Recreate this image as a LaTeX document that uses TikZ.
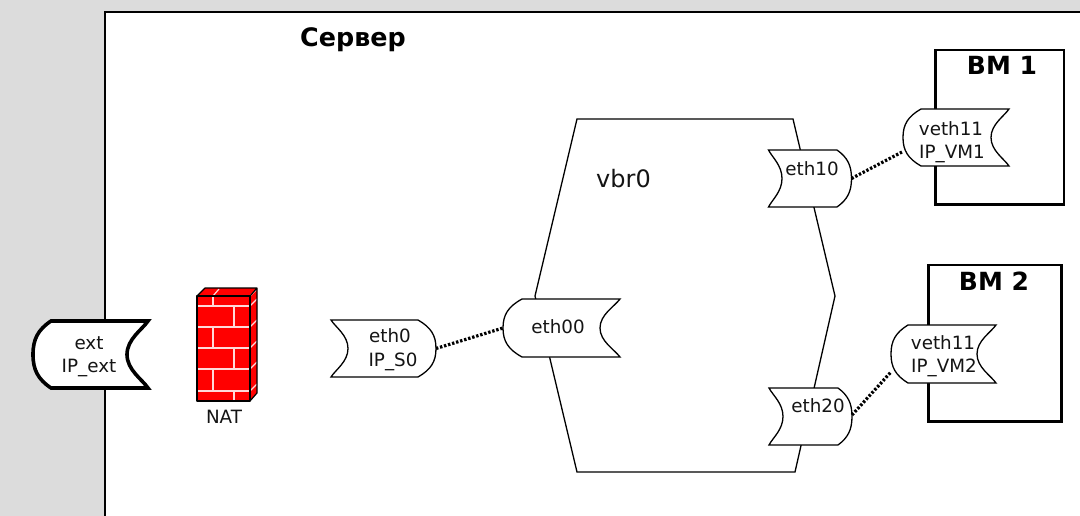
\documentclass[tikz,border=0pt]{standalone}
\usepackage{fontspec}
\setmainfont{DejaVu Sans}
\definecolor{bggray}{HTML}{DCDCDC}
\definecolor{txt}{HTML}{141414}
\newcommand{\fs}[1]{\fontsize{#1}{#1}\selectfont}
% left-bulge port: name, tip, shoulder, notch, corner, top, bottom, line width
\newcommand{\portLeft}[8]{%
  \pgfmathsetmacro{\mym}{(#6+#7)/2}\pgfmathsetmacro{\myh}{#7-#6}%
  \pgfmathsetmacro{\mxm}{(#2+#5)/2}\pgfmathsetmacro{\mw}{#5-#2}%
  \pgfmathsetmacro{\ua}{#6+0.13*\myh}\pgfmathsetmacro{\ub}{#6+0.27*\myh}%
  \pgfmathsetmacro{\la}{#7-0.13*\myh}\pgfmathsetmacro{\lb}{#7-0.27*\myh}%
  \pgfmathsetmacro{\sa}{#3-0.72*(#3-#2)}\pgfmathsetmacro{\na}{#4+0.72*(#5-#4)}%
  \node[portbox,minimum width=\mw pt,minimum height=\myh pt] (#1) at (\mxm,\mym) {};
  \draw[portline,line width=#8] (#3,#6) .. controls (\sa,\ua) and (#2,\ub) .. (#2,\mym)
    .. controls (#2,\lb) and (\sa,\la) .. (#3,#7) -- (#5,#7)
    .. controls (\na,\la) and (#4,\lb) .. (#4,\mym)
    .. controls (#4,\ub) and (\na,\ua) .. (#5,#6) -- cycle;
}
% right-bulge port: name, left corner, notch, shoulder, tip, top, bottom, line width
\newcommand{\portRight}[8]{%
  \pgfmathsetmacro{\mym}{(#6+#7)/2}\pgfmathsetmacro{\myh}{#7-#6}%
  \pgfmathsetmacro{\mxm}{(#2+#5)/2}\pgfmathsetmacro{\mw}{#5-#2}%
  \pgfmathsetmacro{\ua}{#6+0.13*\myh}\pgfmathsetmacro{\ub}{#6+0.27*\myh}%
  \pgfmathsetmacro{\la}{#7-0.13*\myh}\pgfmathsetmacro{\lb}{#7-0.27*\myh}%
  \pgfmathsetmacro{\sa}{#4+0.72*(#5-#4)}\pgfmathsetmacro{\na}{#3-0.72*(#3-#2)}%
  \node[portbox,minimum width=\mw pt,minimum height=\myh pt] (#1) at (\mxm,\mym) {};
  \draw[portline,line width=#8] (#4,#6) .. controls (\sa,\ua) and (#5,\ub) .. (#5,\mym)
    .. controls (#5,\lb) and (\sa,\la) .. (#4,#7) -- (#2,#7)
    .. controls (\na,\la) and (#3,\lb) .. (#3,\mym)
    .. controls (#3,\ub) and (\na,\ua) .. (#2,#6) -- cycle;
}
\tikzset{
  portbox/.style={inner sep=0pt,outer sep=0pt},
  portline/.style={draw=black,fill=white,line join=miter},
  wire/.style={draw=black,line width=1.3pt},
  vmbox/.style={draw=black,line width=2.8pt,fill=white},
  link/.style={draw=black,line width=3.2pt,dash pattern=on 2.4pt off 1.8pt},
  lbl/.style={text=txt,inner sep=0pt,font=\fs{18.3}},
  big/.style={text=black,inner sep=0pt,font=\fs{25}\bfseries},
  brick/.style={draw=white!85!red,line width=1.2pt},
}
\begin{document}
\begin{tikzpicture}[x=1pt,y=-1pt]
\useasboundingbox (0,0) rectangle (1080,516);
\fill[bggray] (0,0) rectangle (1080,516);
\fill[white] (105,12) rectangle (1080,516);
\draw[black,line width=1.5pt] (105,516) -- (105,12) -- (1080,12);
\node[big,font=\fs{25.4}\bfseries,anchor=base west] (server) at (300,47) {Сервер};

% vbr0
\draw[wire] (577,119) -- (793,119) -- (835,296) -- (795,472) -- (577,472) -- (535,296) -- cycle;
\node[text=txt,inner sep=0pt,font=\fs{24},anchor=base west] (vbr) at (596,188) {vbr0};

% VMs
\draw[vmbox] (935.5,50) rectangle (1064,204.5);
\draw[vmbox] (928.5,265) rectangle (1061.5,421.5);
\node[big,anchor=base] (vmA) at (1002,75) {ВМ 1};
\node[big,anchor=base] (vmB) at (994,290) {ВМ 2};

% firewall
\fill[red] (197,296) -- (205,288) -- (257,288) -- (257,393) -- (250,401) -- (197,401) -- cycle;
\foreach \yy in {306,327,348,369,391} \draw[brick] (197,\yy) -- (250,\yy);
\foreach \yy in {306,327,348,369,391} \draw[brick] (250,\yy) -- (257,\yy-7);
\draw[brick] (250,296) -- (257,289);
\foreach \yt/\yb/\xx in {296/306/213,306/327/234,327/348/213,348/369/234,369/391/213,391/401/234}
  \draw[brick] (\xx,\yt) -- (\xx,\yb);
\draw[brick] (213,296) -- (219,289);
\draw[black,line width=1.2pt,line join=round] (197,296) rectangle (250,401);
\draw[black,line width=1.2pt,line join=round] (197,296) -- (205,288) -- (257,288) -- (257,393) -- (250,401) (250,296) -- (257,288);
\node[lbl,anchor=base] (nat) at (224,423) {NAT};

% ports
\portLeft{ext}{33}{51}{127}{148}{321}{388}{3.6pt}
\portRight{ethS}{331}{348}{418}{436}{320}{377}{1.3pt}
\portLeft{ethB}{503}{522}{600}{620}{299}{357}{1.3pt}
\portRight{ethX}{768.5}{782}{837}{851.5}{150}{207}{1.3pt}
\portRight{ethY}{769}{783}{838}{852}{388}{445}{1.3pt}
\portLeft{vethA}{903}{921}{991}{1009}{109}{166}{1.3pt}
\portLeft{vethB}{891}{908}{977}{996}{325}{383}{1.3pt}

% links
\draw[link] (ethS.east) -- (ethB.west);
\draw[link] (ethX.east) -- ([yshift=-14pt]vethA.west);
\draw[link] (ethY) ++(41.5,-1.5) -- ([yshift=-18pt]vethB.west);

% labels
\node[lbl,anchor=base] (extA) at (89,349) {ext};
\node[lbl,anchor=base] (extB) at (89,372) {IP\_ext};
\node[lbl,anchor=base] (ethSa) at (390,342) {eth0};
\node[lbl,anchor=base] (ethSb) at (393,366) {IP\_S0};
\node[lbl,anchor=base] (ethBa) at (558,333) {eth00};
\node[lbl,anchor=base] (ethXa) at (812,176) {eth10};
\node[lbl,anchor=base] (ethYa) at (818,412) {eth20};
\node[lbl,anchor=base] (vethAa) at (951,136) {veth11};
\node[lbl,anchor=base] (vethAb) at (952,159) {IP\_VM1};
\node[lbl,anchor=base] (vethBa) at (943,349) {veth11};
\node[lbl,anchor=base] (vethBb) at (944,372) {IP\_VM2};
\end{tikzpicture}
\end{document}
